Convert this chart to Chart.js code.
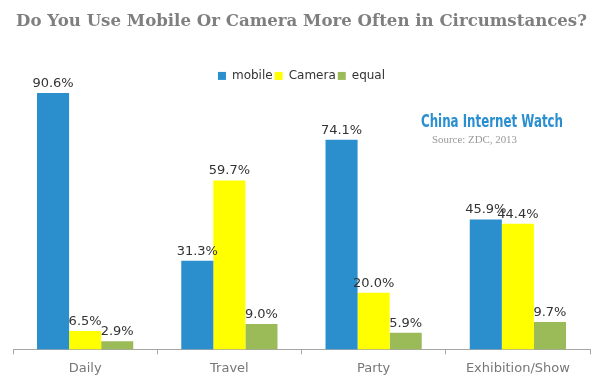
<!DOCTYPE html>
<html><head><meta charset="utf-8">
<script src="https://cdn.jsdelivr.net/npm/chart.js@4"></script>
<style>html,body{margin:0;padding:0;background:#fff}#wrap{width:600px;height:390px}</style>
</head><body><div id="wrap"><canvas id="c" width="600" height="390"></canvas></div>
<script>
const categories = ["Daily", "Travel", "Party", "Exhibition/Show"];
const mobile = [90.6, 31.3, 74.1, 45.9];
const camera = [6.5, 59.7, 20.0, 44.4];
const equal = [2.9, 9.0, 5.9, 9.7];
const seriesNames = ["mobile", "Camera", "equal"];

const valueLabels = {
  id: 'valueLabels',
  afterDatasetsDraw(chart) {
    const ctx = chart.ctx;
    ctx.save();
    ctx.font = '13px "DejaVu Sans"';
    ctx.fillStyle = '#333';
    ctx.textAlign = 'center';
    ctx.textBaseline = 'bottom';
    chart.data.datasets.forEach((ds, i) => {
      chart.getDatasetMeta(i).data.forEach((bar, j) => {
        ctx.fillText(ds.data[j].toFixed(1) + '%', bar.x, bar.y - 3);
      });
    });
    ctx.restore();
  }
};
function fitText(ctx, text, x, y, w) {
  const m = ctx.measureText(text).width;
  ctx.save();
  ctx.translate(x, y);
  ctx.scale(w / m, 1);
  ctx.fillText(text, 0, 0);
  ctx.restore();
}
const watermark = {
  id: 'watermark',
  afterDraw(chart) {
    const ctx = chart.ctx;
    ctx.save();
    ctx.textAlign = 'left';
    ctx.textBaseline = 'middle';
    ctx.fillStyle = '#2a8fd0';
    ctx.font = 'bold 17px "DejaVu Sans"';
    fitText(ctx, 'China Internet Watch', 421, 123, 142);
    ctx.fillStyle = '#999';
    ctx.font = '11px "Liberation Serif", serif';
    fitText(ctx, 'Source: ZDC, 2013', 432, 140, 85);
    ctx.restore();
  }
};

new Chart(document.getElementById('c'), {
  type: 'bar',
  data: {
    labels: categories,
    datasets: [
      {label: seriesNames[0], data: mobile, backgroundColor: '#2b8fcd'},
      {label: seriesNames[1], data: camera, backgroundColor: '#ffff00'},
      {label: seriesNames[2], data: equal, backgroundColor: '#9bbb59'}
    ]
  },
  options: {
    responsive: false,
    animation: false,
    layout: {padding: {left: 13, right: 10, top: 0, bottom: 8}},
    datasets: {bar: {categoryPercentage: 0.667, barPercentage: 1.0}},
    scales: {
      x: {
        grid: {display: true, drawOnChartArea: false, offset: true, color: '#a6a6a6', tickLength: 5},
        border: {color: '#a6a6a6'},
        ticks: {color: '#777', font: {family: '"DejaVu Sans"', size: 13}, padding: 6}
      },
      y: {display: false, min: 0, max: 91}
    },
    plugins: {
      title: {
        display: true,
        text: 'Do You Use Mobile Or Camera More Often in Circumstances?',
        color: '#7f7f7f',
        font: {family: '"DejaVu Serif"', size: 16.6, weight: 'bold'},
        padding: {top: 12, bottom: 36}
      },
      legend: {
        position: 'top',
        align: 'center',
        labels: {boxWidth: 8, boxHeight: 8, padding: 2, color: '#333', font: {family: '"DejaVu Sans"', size: 12}}
      },
      tooltip: {enabled: false}
    }
  },
  plugins: [valueLabels, watermark]
});
</script></body></html>
